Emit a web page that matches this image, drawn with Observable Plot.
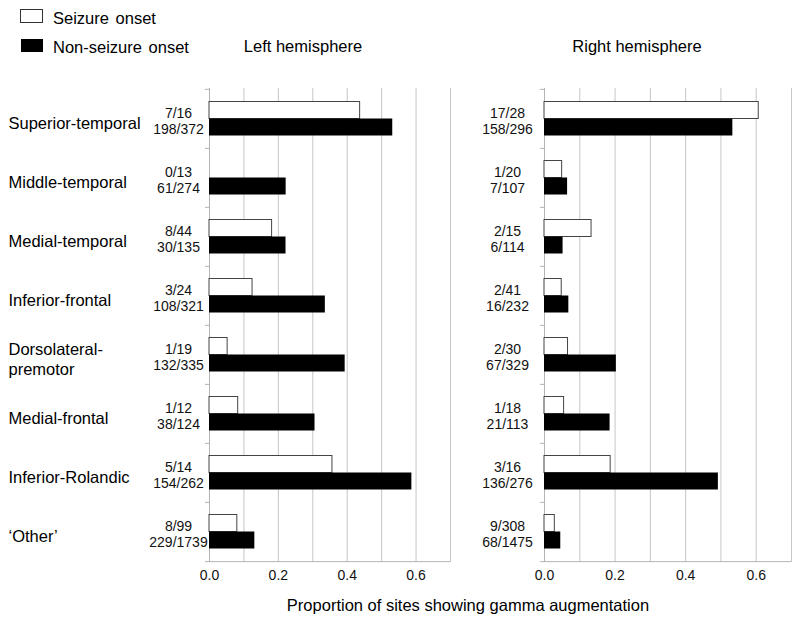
<!DOCTYPE html>
<html><head><meta charset="utf-8">
<script src="https://cdn.jsdelivr.net/npm/d3@7"></script>
<script src="https://cdn.jsdelivr.net/npm/@observablehq/plot@0.6"></script>
<style>
body{margin:0;background:#fff;}
#wrap{position:relative;width:800px;height:621px;font-family:Arial,"Liberation Sans",sans-serif;color:#000;overflow:hidden;background:#fff;}
#wrap svg{position:absolute;top:0;}
.lbl{position:absolute;font-size:16.5px;line-height:1;white-space:nowrap;transform:translateY(-50%);}
.ctr{transform:translate(-50%,-50%);}
.box{position:absolute;box-sizing:border-box;}
</style></head><body>
<div id="wrap">
  <div class="box" style="left:20px;top:9px;width:23px;height:14px;border:1px solid #333;background:#fff;"></div>
  <div class="box" style="left:21px;top:39px;width:22px;height:13px;background:#000;"></div>
  <div class="lbl" style="left:53px;top:18px;word-spacing:2px;">Seizure onset</div>
  <div class="lbl" style="left:53px;top:47px;word-spacing:2px;">Non-seizure onset</div>
  <div class="lbl ctr" style="left:303px;top:46px;">Left hemisphere</div>
  <div class="lbl ctr" style="left:637px;top:46px;">Right hemisphere</div>
  <div class="lbl ctr" style="left:468px;top:605px;">Proportion of sites showing gamma augmentation</div>
</div>
<script>
// ---- data ----
const categories = ["Superior-temporal", "Middle-temporal", "Medial-temporal", "Inferior-frontal",
  "Dorsolateral-\npremotor", "Medial-frontal", "Inferior-Rolandic", "\u2018Other\u2019"];
// Left hemisphere: sites showing augmentation / total sites
const leftSeizureN = [7, 0, 8, 3, 1, 1, 5, 8];
const leftSeizureD = [16, 13, 44, 24, 19, 12, 14, 99];
const leftNonN = [198, 61, 30, 108, 132, 38, 154, 229];
const leftNonD = [372, 274, 135, 321, 335, 124, 262, 1739];
// Right hemisphere
const rightSeizureN = [17, 1, 2, 2, 2, 1, 3, 9];
const rightSeizureD = [28, 20, 15, 41, 30, 18, 16, 308];
const rightNonN = [158, 7, 6, 16, 67, 21, 136, 68];
const rightNonD = [296, 107, 114, 232, 329, 113, 276, 1475];
// tick values
const xTicks = [0, 0.2, 0.4, 0.6];
const gridTicks = [0.1, 0.2, 0.3, 0.4, 0.5, 0.6, 0.7];
const xDomain = [0, 0.7];

// ---- layout ----
const FONT = 'Arial, "Liberation Sans", sans-serif';
const H = 621, MT = 88, MB = 59;
const step = (H - MT - MB) / categories.length;
const barH = 17;
const pin = 1 - barH / step, pout = pin / 2;
const GRID = "#c6c6c6", AXIS = "#b4b4b4";

function panel({width, marginLeft, marginRight, seizN, seizD, nonN, nonD, labelDx, showCats}) {
  const rows = categories.map((c, i) => ({
    cat: c,
    s: seizN[i] / seizD[i],
    n: nonN[i] / nonD[i],
    fs: `${seizN[i]}/${seizD[i]}`,
    fn: `${nonN[i]}/${nonD[i]}`
  }));
  const pxPerUnit = (width - marginLeft - marginRight) / (xDomain[1] - xDomain[0]);
  const tk = 4 / pxPerUnit;
  const marks = [
    Plot.ruleX(gridTicks, {stroke: GRID, strokeWidth: 1}),
    Plot.ruleX([0], {stroke: AXIS}),
    Plot.ruleY(categories, {y: d => d, x1: -tk, x2: 0, dy: -step / 2, stroke: AXIS}),
    Plot.ruleY(categories.slice(-1), {y: d => d, x1: -tk, x2: xDomain[1], dy: step / 2, stroke: AXIS}),
    Plot.barX(rows, {y: "cat", x: "s", dy: -barH / 2, fill: "white", stroke: "#444", strokeWidth: 1}),
    Plot.barX(rows, {y: "cat", x: "n", dy: barH / 2, fill: "black"}),
    Plot.text(rows, {y: "cat", x: () => xDomain[0], text: "fs", dx: labelDx, dy: -5,
      textAnchor: "middle", fontSize: 14, fill: "#111"}),
    Plot.text(rows, {y: "cat", x: () => xDomain[0], text: "fn", dx: labelDx, dy: 11,
      textAnchor: "middle", fontSize: 14, fill: "#111"})
  ];
  if (showCats) marks.push(Plot.text(rows, {y: "cat", text: "cat", frameAnchor: "left",
    dx: 8 - marginLeft, dy: 3.5, textAnchor: "start", fontSize: 16.5, lineHeight: 1.25, fill: "#000"}));
  return Plot.plot({
    width, height: H, marginTop: MT, marginBottom: MB, marginLeft, marginRight,
    style: {fontFamily: FONT, fontSize: "14px", color: "#111", background: "transparent", overflow: "visible"},
    x: {domain: xDomain, ticks: xTicks, tickFormat: d3.format(".1f"), tickSize: 0, tickPadding: 8, label: null},
    y: {domain: categories, paddingInner: pin, paddingOuter: pout, axis: null},
    marks
  });
}

const wrap = document.getElementById("wrap");
const left = panel({width: 460, marginLeft: 209, marginRight: 10,
  seizN: leftSeizureN, seizD: leftSeizureD, nonN: leftNonN, nonD: leftNonD, labelDx: -31, showCats: true});
left.style.left = "0px";
const right = panel({width: 340, marginLeft: 84, marginRight: 9,
  seizN: rightSeizureN, seizD: rightSeizureD, nonN: rightNonN, nonD: rightNonD, labelDx: -37, showCats: false});
right.style.left = "460px";
wrap.prepend(right);
wrap.prepend(left);
</script>
</body></html>
